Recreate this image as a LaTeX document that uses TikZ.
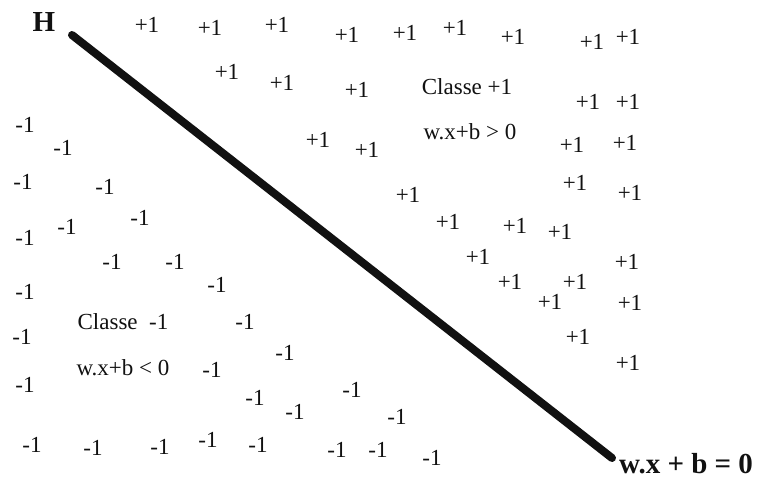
\documentclass[tikz,border=0pt]{standalone}
\usepackage{fontspec}
\setmainfont{Liberation Serif}
\usepackage{xcolor}
\definecolor{ink}{HTML}{111111}

\begin{document}
\begin{tikzpicture}[x=1pt, y=-1pt,
    lbl/.style={inner sep=0pt, text=ink, font=\fontsize{23}{23}\selectfont},
    bigl/.style={inner sep=0pt, text=ink, font=\fontsize{29}{29}\selectfont\bfseries}]
  \useasboundingbox (0,0) rectangle (769,481);
  % separating hyperplane
  \coordinate (hstart) at (72,35);
  \coordinate (hend) at (612,458);
  \draw[line width=8pt, line cap=round, ink] (hstart) -- (hend);
  \node[bigl] (hname) at (44,22) {H};
  \node[bigl, anchor=west] (heq) at (619,464) {w.x + b = 0};
  % class +1 samples
  \foreach \px/\py [count=\i] in {147/25, 210/28, 277/25, 347/35, 405/33, 455/28,
      513/37, 592/42, 628/37, 227/72, 282/83, 357/90, 588/102, 628/102,
      572/145, 625/143, 318/140, 367/150, 408/195, 575/183, 630/193,
      448/222, 515/226, 560/232, 478/257, 627/262, 510/282, 575/282,
      550/302, 630/303, 578/337, 628/363}
    \node[lbl] (pos\i) at (\px,\py) {+1};
  % class -1 samples
  \foreach \px/\py [count=\i] in {25/125, 63/148, 23/182, 105/187, 140/218,
      67/227, 25/238, 112/262, 175/262, 25/292, 217/285, 245/322, 22/337,
      285/353, 212/370, 25/385, 255/398, 295/412, 352/390, 397/417,
      32/445, 93/448, 160/447, 208/440, 258/445, 337/450, 378/450, 432/458}
    \node[lbl] (neg\i) at (\px,\py) {-1};
  % class captions
  \node[lbl] (cpos) at (467,87) {Classe +1};
  \node[lbl] (rpos) at (470,132) {w.x+b > 0};
  \node[lbl] (cneg) at (123,322) {Classe ~-1};
  \node[lbl] (rneg) at (123,368) {w.x+b < 0};
\end{tikzpicture}
\end{document}
